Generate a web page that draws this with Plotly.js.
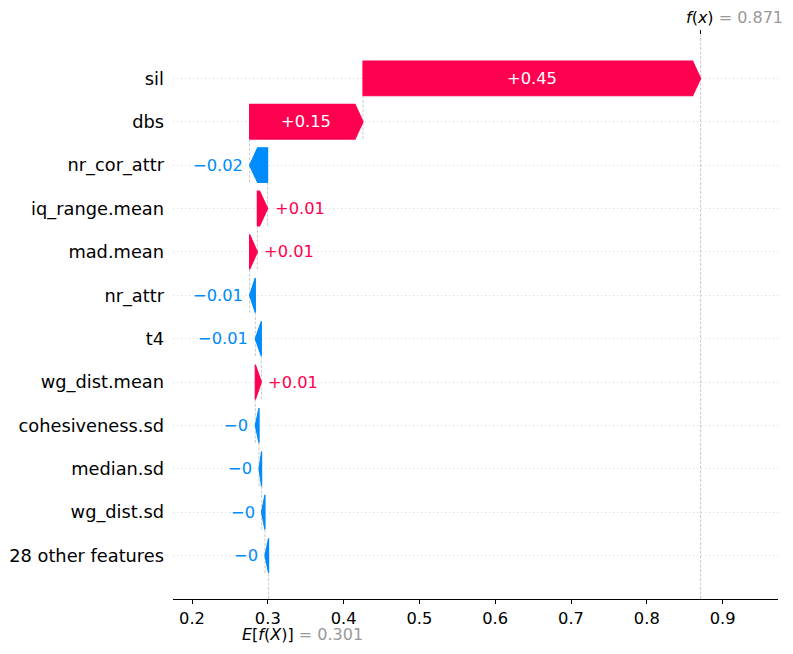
<!DOCTYPE html>
<html><head><meta charset="utf-8">
<script src="https://cdn.plot.ly/plotly-3.0.1.min.js"></script>
<style>html,body{margin:0;padding:0;background:#fff}#chart{width:793px;height:654px}</style>
</head><body><div id="chart"></div>
<script>
// ---- data (top row first) ----
const features = ["sil","dbs","nr_cor_attr","iq_range.mean","mad.mean","nr_attr","t4","wg_dist.mean","cohesiveness.sd","median.sd","wg_dist.sd","28 other features"];
const shapValues = [0.4454,0.1496,-0.0237,0.0135,0.0102,-0.0075,-0.0079,0.0079,-0.0049,-0.0034,-0.0044,-0.0048];
const baseValue = 0.301;
const fxValue = 0.871;
const xTicks = [0.2,0.3,0.4,0.5,0.6,0.7,0.8,0.9];

// ---- styling ----
const RED = "#ff0051", BLUE = "#008bfb";
const FONT = "DejaVu Sans";
const W = 793, H = 654;
const M = {l:173, r:15, t:35, b:55};
const xRange = [0.1749, 0.9731];
const yRange = [-1, 12];
const n = features.length;
const pxPerUnit = (W - M.l - M.r) / (xRange[1] - xRange[0]);
const hl = 8 / pxPerUnit;
const barW = 0.8;

function fmt(v){
  let s = (v >= 0 ? "+" : "-") + Math.abs(v).toFixed(2);
  s = s.replace(/\.?0+$/, "");
  if (s[0] === "-") s = "\u2212" + s.slice(1);
  return s;
}
function textWidth(s, size){
  let w = 0;
  for (const c of s){
    if (c === "+" || c === "\u2212") w += 0.838;
    else if (c === ".") w += 0.318;
    else w += 0.636;
  }
  return w * size;
}

// cumulative positions (from top, start at f(x))
let loc = fxValue;
const rows = [], starts = [];
for (let i = 0; i < n; i++){
  rows.push(n - 1 - i);
  loc -= shapValues[i];
  starts.push(loc);
}

const traces = [];
// dashed connectors
const cx = [], cy = [];
for (let i = 0; i < n - 1; i++){
  cx.push(starts[i], starts[i], null);
  cy.push(rows[i] - 1.4, rows[i] + 0.4, null);
}
cx.push(baseValue, baseValue, null);
cy.push(yRange[0], yRange[0] + (yRange[1]-yRange[0]) / n, null);
cx.push(fxValue, fxValue);
cy.push(yRange[0], yRange[1]);
traces.push({type:"scatter", mode:"lines", x:cx, y:cy, hoverinfo:"skip", showlegend:false,
  line:{color:"#bbbbbb", width:0.8, dash:"3px,1.5px"}, cliponaxis:true});

// arrows
const annotations = [];
for (let i = 0; i < n; i++){
  const v = shapValues[i], s = starts[i], r = rows[i];
  const dir = v >= 0 ? 1 : -1, dist = Math.abs(v);
  const body = Math.max(dist - hl, 1e-6);
  const h = barW / 2;
  const col = v >= 0 ? RED : BLUE;
  traces.push({type:"scatter", mode:"lines", fill:"toself", fillcolor:col,
    x:[s, s + dir*body, s + dir*dist, s + dir*body, s, s],
    y:[r - h, r - h, r, r + h, r + h, r - h],
    line:{color:col, width:1.2}, hoverinfo:"skip", showlegend:false});
  const label = fmt(v);
  if (textWidth(label, 16) < dist * pxPerUnit){
    annotations.push({x: s + dir*dist/2, y: r, xref:"x", yref:"y", text:label, showarrow:false,
      font:{family:FONT, size:16.3, color:"white"}, xanchor:"center", yanchor:"middle"});
  } else {
    annotations.push({x: s + dir*dist, y: r, xref:"x", yref:"y", text:label, showarrow:false,
      font:{family:FONT, size:16.3, color:col}, xanchor: v >= 0 ? "left" : "right", yanchor:"middle",
      xshift: dir * 5});
  }
}

// f(x) and E[f(X)] labels
annotations.push({x:fxValue, xref:"x", y:1, yref:"paper", yanchor:"middle", yshift:18,
  xanchor:"left", xshift:-16, showarrow:false, borderpad:0,
  text:"<i>f</i>(<i>x</i>) <span style='color:#999999'>= " + fxValue.toFixed(3) + "</span>",
  font:{family:FONT, size:16, color:"black"}});
annotations.push({x:baseValue, xref:"x", y:0, yref:"paper", yanchor:"middle", yshift:-35,
  xanchor:"left", xshift:-28, showarrow:false, borderpad:0,
  text:"<i>E</i>[<i>f</i>(<i>X</i>)] <span style='color:#999999'>= " + baseValue.toFixed(3) + "</span>",
  font:{family:FONT, size:16, color:"black"}});

// dummy trace for top axis tick
traces.push({type:"scatter", mode:"markers", x:[fxValue], y:[0], xaxis:"x2", marker:{opacity:0}, hoverinfo:"skip", showlegend:false});

const layout = {
  width:W, height:H, margin:M, paper_bgcolor:"white", plot_bgcolor:"white",
  font:{family:FONT, color:"black"},
  showlegend:false,
  xaxis:{range:xRange, tickvals:xTicks, ticktext:xTicks.map(t=>t.toFixed(1)),
    showline:true, linecolor:"black", linewidth:1, ticks:"outside", ticklen:4, tickwidth:1, tickcolor:"black",
    showgrid:false, zeroline:false, tickfont:{family:FONT, size:16.3, color:"black"}},
  xaxis2:{overlaying:"x", side:"top", matches:"x", range:xRange, tickvals:[fxValue], ticktext:[""],
    ticks:"outside", ticklen:4, tickwidth:1, tickcolor:"black", showline:false, showgrid:false, zeroline:false},
  yaxis:{range:yRange, tickvals:rows, ticktext:features, showline:false, ticks:"", zeroline:false,
    showgrid:true, gridcolor:"#cccccc", gridwidth:0.8, griddash:"1px,3px",
    tickfont:{family:FONT, size:17.8, color:"black"}, ticklabelstandoff:8},
  annotations:annotations
};
Plotly.newPlot("chart", traces, layout, {staticPlot:true, displayModeBar:false});
</script>
</body></html>
